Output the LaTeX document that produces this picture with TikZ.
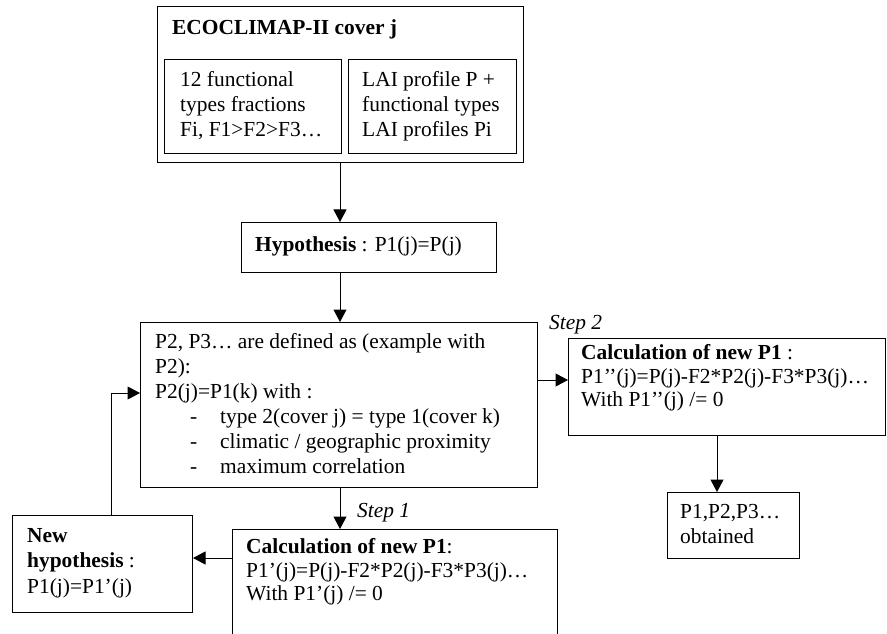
\documentclass[tikz,border=0pt]{standalone}
\usepackage{fontspec}
\setmainfont{Liberation Serif}
\usetikzlibrary{arrows.meta}
\begin{document}
\begin{tikzpicture}[x=1bp,y=-1bp,
  box/.style={draw=black, line width=1bp, inner sep=0pt, anchor=north west},
  txt/.style={inner sep=0pt, anchor=base west, font=\fontsize{21.5}{25}\selectfont},
  arr/.style={draw=black, line width=1bp, -{Triangle[length=12.5bp,width=13bp]}}]
\useasboundingbox (0,0) rectangle (887,634);
\clip (0,0) rectangle (887,634);
% boxes
\node[box, minimum width=366bp, minimum height=156bp] (top) at (157,6) {};
\node[box, minimum width=177bp, minimum height=94bp] (inl) at (164,59) {};
\node[box, minimum width=168bp, minimum height=94bp] (inr) at (348,59) {};
\node[box, minimum width=255bp, minimum height=50bp] (hyp) at (241,222) {};
\node[box, minimum width=397bp, minimum height=165bp] (mid) at (140,322) {};
\node[box, minimum width=317bp, minimum height=97bp] (rgt) at (568,338) {};
\node[box, minimum width=132bp, minimum height=66bp] (obt) at (667,492) {};
\node[box, minimum width=325bp, minimum height=131bp] (bot) at (232,529) {};
\node[box, minimum width=180bp, minimum height=97bp] (newh) at (12,515) {};
% texts
\node[txt] (title) at (172,35) {\textbf{ECOCLIMAP-II cover j}};
\node[txt] (l1) at (180,87) {12 functional};
\node[txt] (l2) at (180,112) {types fractions};
\node[txt] (l3) at (180,137) {Fi, F1>F2>F3…};
\node[txt] (r1) at (362,87) {LAI profile P +};
\node[txt] (r2) at (362,112) {functional types};
\node[txt] (r3) at (362,137) {LAI profiles Pi};
\node[txt] (htxt) at (255,252) {\textbf{Hypothesis} : P1(j)=P(j)};
\node[txt] (m1) at (155,348) {P2, P3… are defined as (example with};
\node[txt] (m2) at (155,373) {P2):};
\node[txt] (m3) at (155,398) {P2(j)=P1(k) with :};
\node[txt] (d1) at (190,423) {-};
\node[txt] (d2) at (190,448) {-};
\node[txt] (d3) at (190,473) {-};
\node[txt] (b1) at (220,423) {type 2(cover j) = type 1(cover k)};
\node[txt] (b2) at (220,448) {climatic / geographic proximity};
\node[txt] (b3) at (220,473) {maximum correlation};
\node[txt] (s2) at (549,329) {\itshape Step 2};
\node[txt] (rt1) at (581,359) {\textbf{Calculation of new P1} :};
\node[txt] (rt2) at (581,383) {P1’’(j)=P(j)-F2*P2(j)-F3*P3(j)…};
\node[txt] (rt3) at (581,406) {With P1’’(j) /= 0};
\node[txt] (o1) at (680,518) {P1,P2,P3…};
\node[txt] (o2) at (680,543) {obtained};
\node[txt] (s1) at (357,517) {\itshape Step 1};
\node[txt] (bt1) at (246,553) {\textbf{Calculation of new P1}:};
\node[txt] (bt2) at (246,577) {P1’(j)=P(j)-F2*P2(j)-F3*P3(j)…};
\node[txt] (bt3) at (246,600) {With P1’(j) /= 0};
\node[txt] (n1) at (27,542) {\textbf{New}};
\node[txt] (n2) at (27,567) {\textbf{hypothesis} :};
\node[txt] (n3) at (27,593) {P1(j)=P1’(j)};
% connector guides
\coordinate (cx) at (340,0);
\coordinate (ox) at (717,0);
\coordinate (fx) at (111,0);
\coordinate (yr) at (0,380);
\coordinate (yf) at (0,393);
\coordinate (yb) at (0,558);
% connectors
\draw[arr] (cx |- top.south) -- (cx |- hyp.north);
\draw[arr] (cx |- hyp.south) -- (cx |- mid.north);
\draw[arr] (mid.east |- yr) -- (rgt.west |- yr);
\draw[arr] (ox |- rgt.south) -- (ox |- obt.north);
\draw[arr] (cx |- mid.south) -- (cx |- bot.north);
\draw[arr] (bot.west |- yb) -- (newh.east |- yb);
\draw[arr] (fx |- newh.north) |- (mid.west |- yf);
\end{tikzpicture}
\end{document}
